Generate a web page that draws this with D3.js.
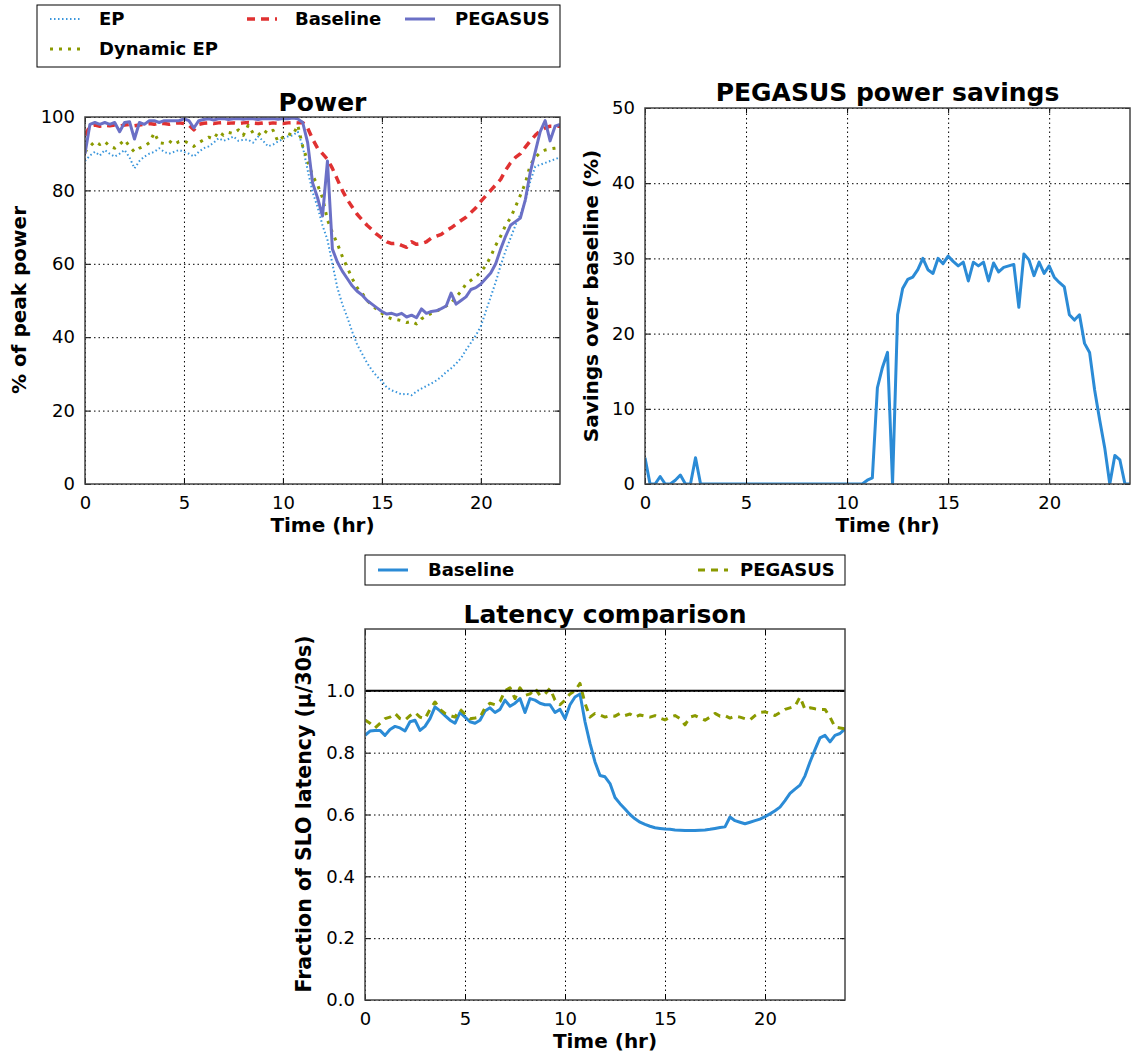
<!DOCTYPE html>
<html>
<head>
<meta charset="utf-8">
<script src="https://cdn.jsdelivr.net/npm/d3@7"></script>
<style>
  body { margin: 0; background: #fff; }
  svg text { font-family: "DejaVu Sans", sans-serif; fill: #000; }
  .tick text { font-size: 18px; }
  .grid line { stroke: #000; stroke-width: 1; stroke-dasharray: 1.5,3; }
  .grid path { display: none; }
</style>
</head>
<body>
<svg id="chart"></svg>
<script>
// sample every 0.25 hr from 0 to 24
var step = 0.25;

var powerEP = [88,89.5,90.5,89.5,91,90,89.2,90,91,89,86,88,89.2,90,90.5,91.5,90.5,90,90.5,91,90.5,90,89.2,90.5,
  91.5,92,93,94.2,93.5,94,94.7,93.5,93.8,93.8,93,94.7,93.5,92,92.5,93.3,94,94.7,95,96,
  92,85.5,79.5,75.5,70.5,66.5,60,53.5,49,45.5,41.5,38,35.5,33,31,29.3,28,26.3,25.5,25,24.4,24.6,24.2,25.2,
  26,26.7,27.4,28.2,29.2,30.5,31.5,32.8,34.3,36.5,38.5,40.5,43,47,51,55,59.5,63.5,67,70.5,73.5,77,82.5,86.5,
  87,87.5,88,88.5,89];
var powerDynEP = [90.5,92,93.3,92.5,93.3,92,91.5,92.5,93.8,92,90.5,91.5,92,93,95.7,93,92.8,93.5,92.5,93.3,93.5,92.8,92,93,
  93.8,94.5,94,96,95,95.8,95.5,96.5,95,97.8,95.5,95,96.5,95.5,96.4,93.3,94.5,95.5,95,97.8,
  92,88,84,81.5,78,72,68.5,65.5,62,59,56,53.5,52,50,48.8,47.5,46.5,45.5,45,44.8,44.5,44,44.3,43.6,
  45,45.8,46.5,47,47.8,48.5,49.3,51,52.5,54.5,55.5,56.5,57.8,59.5,62,65,67.5,70.5,72.5,75.5,78.7,82,87,89,
  90.3,91,91.3,91.5,91.7];
var powerBaseline = [95,97.5,97.8,97.5,97.8,97.6,97.8,97.5,97.8,98,97.6,97.8,98,98.2,98,98.3,98.2,98,98.3,98.4,98.2,97.8,96.5,98,
  98.3,98.4,98.2,98.4,98.5,98.3,98.4,98.2,98.4,98.5,98.3,98.2,98.4,98.2,98.4,98.3,98.2,98.4,98.5,98.4,
  98.5,97,94,91.5,90,88.5,86,83,80,77.5,75.5,73.5,72,70.5,69.3,68,67,66,65.5,65.6,65,64.5,66,65.3,
  65.5,66,67,67.5,68,69,69.8,70.8,71.8,72.7,74,75.3,77,78.5,80,81.5,83,85.5,87.5,89,90,91.8,93.5,95,
  96.3,97,97.5,97.5,97.5];
var powerPegasus = [90,98,98.5,98,98.5,98,98.5,96,98.5,98.7,94,98.5,98,99,99,98.5,99,99,99,99,99.5,99,97,99,
  99.3,99.5,99.2,99.5,99.6,99.3,99.5,99.6,99.4,99.6,99.5,99.3,99.6,99.5,99.6,99.4,99.6,99.5,99.7,99.5,
  98.5,93,82,78,73,88,64,60.5,58,56,54,52.5,51.5,50,49,48,47,46.3,46.5,46,46.5,45.5,46,45.3,
  47.7,46.5,47,47.2,47.8,48.5,52,49,50,51,53,53.5,54.5,56,57.5,60,64,67.5,70.5,71.5,72.5,77.5,85,90.5,
  96,99,93.5,97.5,98];

var savings = [3.5,0,0,1,0,0,0.5,1.2,0,0,3.5,0,0,0,0,0,0,0,0,0,0,0,0,0,
  0,0,0,0,0,0,0,0,0,0,0,0,0,0,0,0,0,0,0,0,
  0.5,0.8,12.8,15.5,17.5,0,22.5,26,27.2,27.5,28.5,30,28.5,28,30,29.3,30.3,29.6,29,29.5,27,29.5,29,29.5,
  27,29.4,28.2,28.8,29,29.2,23.5,30.6,29.8,27.7,29.5,28,29,27.5,26.8,26.2,22.5,21.8,22.5,18.7,17.5,12.5,8.5,4.8,
  0,3.8,3.2,0,0];

var latBaseline = [0.856,0.87,0.872,0.872,0.856,0.875,0.885,0.88,0.87,0.9,0.905,0.872,0.885,0.91,0.948,0.935,0.92,0.905,0.895,0.93,0.915,0.9,0.895,0.905,
  0.935,0.945,0.93,0.94,0.97,0.95,0.96,0.975,0.93,0.975,0.97,0.96,0.955,0.955,0.93,0.94,0.91,0.955,0.98,0.99,
  0.9,0.83,0.77,0.726,0.722,0.7,0.655,0.635,0.618,0.6,0.586,0.575,0.568,0.562,0.557,0.555,0.553,0.552,0.55,0.549,0.548,0.548,0.548,0.549,
  0.55,0.552,0.555,0.558,0.56,0.592,0.58,0.575,0.57,0.575,0.58,0.585,0.593,0.602,0.612,0.624,0.645,0.668,0.682,0.695,0.725,0.77,0.81,0.848,
  0.856,0.835,0.856,0.862,0.877];
var latPegasus = [0.906,0.895,0.88,0.895,0.91,0.915,0.927,0.91,0.905,0.92,0.93,0.915,0.91,0.94,0.964,0.94,0.927,0.92,0.915,0.94,0.925,0.91,0.912,0.915,
  0.945,0.96,0.955,0.965,1.0,1.01,0.975,1.01,0.985,0.99,1.008,0.985,0.99,1.008,0.97,0.955,0.97,0.99,1.0,1.024,
  0.96,0.915,0.927,0.922,0.915,0.92,0.918,0.927,0.92,0.925,0.915,0.922,0.918,0.915,0.92,0.912,0.906,0.915,0.92,0.91,0.89,0.915,0.92,0.912,
  0.905,0.915,0.927,0.918,0.92,0.912,0.918,0.915,0.91,0.906,0.92,0.93,0.932,0.927,0.92,0.93,0.94,0.945,0.95,0.98,0.94,0.945,0.942,0.94,
  0.94,0.915,0.883,0.88,0.877];

var xTicks = [0, 5, 10, 15, 20];
var powerTicks = [0, 20, 40, 60, 80, 100];
var savingsTicks = [0, 10, 20, 30, 40, 50];
var latencyTicks = [0, 0.2, 0.4, 0.6, 0.8, 1.0];

var colEP = "#3a96dc", colDyn = "#8a9a00", colBase = "#e03131", colPeg = "#6b70c6", colBlue = "#2b8bd6";

var width = 1136, height = 1055;
var svg = d3.select("#chart").attr("width", width).attr("height", height);

function makePanel(o) {
  var x = d3.scaleLinear().domain([0, 24]).range([o.left, o.right]);
  var y = d3.scaleLinear().domain(o.yDomain).range([o.bottom, o.top]);
  var g = svg.append("g");
  var h = o.bottom - o.top, w = o.right - o.left;

  g.append("g").attr("class", "grid")
    .attr("transform", "translate(0," + o.bottom + ")")
    .call(d3.axisBottom(x).tickValues(xTicks).tickSize(-h).tickFormat(""));
  g.append("g").attr("class", "grid")
    .attr("transform", "translate(" + o.left + ",0)")
    .call(d3.axisLeft(y).tickValues(o.yTicks).tickSize(-w).tickFormat(""));

  var clipId = "clip" + o.id;
  svg.append("clipPath").attr("id", clipId).append("rect")
    .attr("x", o.left).attr("y", o.top).attr("width", w).attr("height", h);

  var plot = g.append("g").attr("clip-path", "url(#" + clipId + ")");
  var line = d3.line().x(function(d, i){ return x(i * step); }).y(function(d){ return y(d); });
  o.series.forEach(function(s){
    plot.append("path").datum(s.values)
      .attr("d", line)
      .attr("fill", "none")
      .attr("stroke", s.color)
      .attr("stroke-width", s.width)
      .attr("stroke-dasharray", s.dash || null)
      .attr("stroke-linejoin", "round");
  });
  if (o.hline !== undefined) {
    plot.append("line").attr("x1", o.left).attr("x2", o.right)
      .attr("y1", y(o.hline)).attr("y2", y(o.hline))
      .attr("stroke", "#000").attr("stroke-width", 2);
  }

  // axes with inward ticks on all four sides
  g.append("g").attr("transform", "translate(0," + o.bottom + ")")
    .call(d3.axisBottom(x).tickValues(xTicks).tickSize(-5).tickPadding(12));
  g.append("g").attr("transform", "translate(0," + o.top + ")")
    .call(d3.axisTop(x).tickValues(xTicks).tickSize(-5).tickFormat(""));
  g.append("g").attr("transform", "translate(" + o.left + ",0)")
    .call(d3.axisLeft(y).tickValues(o.yTicks).tickSize(-5).tickPadding(10).tickFormat(o.yFmt || d3.format("d")));
  g.append("g").attr("transform", "translate(" + o.right + ",0)")
    .call(d3.axisRight(y).tickValues(o.yTicks).tickSize(-5).tickFormat(""));
  g.selectAll(".domain").attr("stroke", "none");
  g.selectAll(".tick line").attr("stroke", "#000");

  g.append("rect").attr("x", o.left).attr("y", o.top).attr("width", w).attr("height", h)
    .attr("fill", "none").attr("stroke", "#444").attr("stroke-width", 1.5);

  g.append("text").attr("x", (o.left + o.right) / 2).attr("y", o.titleY)
    .attr("text-anchor", "middle").style("font-size", "25px").style("font-weight", "bold")
    .text(o.title);
  g.append("text").attr("x", (o.left + o.right) / 2).attr("y", o.bottom + 48)
    .attr("text-anchor", "middle").style("font-size", "20px").style("font-weight", "bold")
    .text("Time (hr)");
  g.append("text")
    .attr("transform", "translate(" + o.ylabelX + "," + o.ylabelY + ") rotate(-90)")
    .attr("text-anchor", "middle").style("font-size", o.ylabelSize || "20px").style("font-weight", "bold")
    .text(o.ylabel);
}

makePanel({
  id: 1, left: 85, right: 560, top: 117, bottom: 484,
  yDomain: [0, 100], yTicks: powerTicks,
  title: "Power", titleY: 111, ylabel: "% of peak power", ylabelX: 26, ylabelY: 300,
  series: [
    { values: powerEP, color: colEP, width: 2, dash: "1.5,2.5" },
    { values: powerDynEP, color: colDyn, width: 3, dash: "3,6" },
    { values: powerBaseline, color: colBase, width: 3.5, dash: "8,6" },
    { values: powerPegasus, color: colPeg, width: 3 }
  ]
});

makePanel({
  id: 2, left: 645, right: 1130, top: 108, bottom: 484,
  yDomain: [0, 50], yTicks: savingsTicks,
  title: "PEGASUS power savings", titleY: 101, ylabel: "Savings over baseline (%)", ylabelX: 598, ylabelY: 296,
  series: [
    { values: savings, color: colBlue, width: 3 }
  ]
});

makePanel({
  id: 3, left: 365, right: 845, top: 629, bottom: 1000,
  yDomain: [0, 1.2], yTicks: latencyTicks, yFmt: d3.format(".1f"), hline: 1.0,
  title: "Latency comparison", titleY: 623, ylabel: "Fraction of SLO latency (\u03bc/30s)", ylabelX: 311, ylabelY: 814,
  ylabelSize: "20.5px",
  series: [
    { values: latBaseline, color: colBlue, width: 3 },
    { values: latPegasus, color: colDyn, width: 3, dash: "7,6" }
  ]
});

// legends
function legend(box, items) {
  var g = svg.append("g");
  g.append("rect").attr("x", box.x).attr("y", box.y).attr("width", box.w).attr("height", box.h)
    .attr("fill", "#fff").attr("stroke", "#000").attr("stroke-width", 1);
  items.forEach(function(it){
    g.append("line").attr("x1", it.x).attr("x2", it.x + 30).attr("y1", it.y).attr("y2", it.y)
      .attr("stroke", it.color).attr("stroke-width", it.width).attr("stroke-dasharray", it.dash || null);
    g.append("text").attr("x", it.tx).attr("y", it.y).attr("dy", "0.35em")
      .style("font-size", "18px").style("font-weight", "bold").text(it.label);
  });
}

legend({ x: 37, y: 5, w: 523, h: 62 }, [
  { label: "EP", x: 50, tx: 99, y: 19, color: colEP, width: 2, dash: "1.5,2.5" },
  { label: "Dynamic EP", x: 50, tx: 99, y: 49, color: colDyn, width: 3, dash: "3,6" },
  { label: "Baseline", x: 247, tx: 295, y: 19, color: colBase, width: 3.5, dash: "8,6" },
  { label: "PEGASUS", x: 405, tx: 455, y: 19, color: colPeg, width: 3 }
]);

legend({ x: 365, y: 555, w: 480, h: 30 }, [
  { label: "Baseline", x: 378, tx: 428, y: 570, color: colBlue, width: 3 },
  { label: "PEGASUS", x: 698, tx: 740, y: 570, color: colDyn, width: 3, dash: "7,6" }
]);
</script>
</body>
</html>
